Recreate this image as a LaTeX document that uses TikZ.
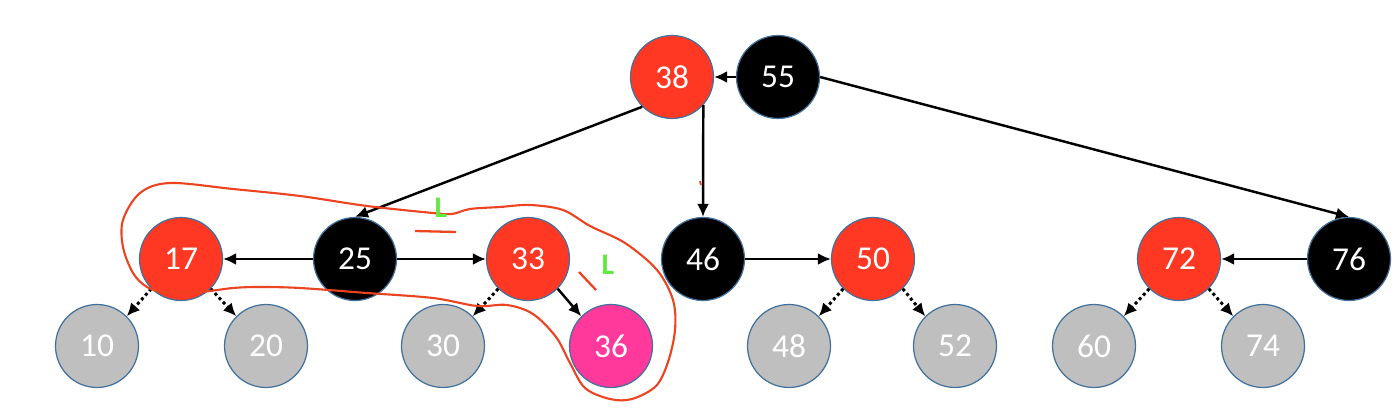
\documentclass[tikz,border=0pt]{standalone}
\usepackage{fontspec}
\setmainfont{Carlito}
\usepackage{xcolor}
\usetikzlibrary{positioning, calc, arrows.meta}

\definecolor{nodered}{HTML}{FF3823}
\definecolor{nodepink}{HTML}{FF389C}
\definecolor{nodegray}{HTML}{BFBFBF}
\definecolor{rim}{HTML}{41719C}
\definecolor{pen}{HTML}{EC4320}
\definecolor{penlime}{HTML}{5EEA3E}

\begin{document}
\begin{tikzpicture}[x=0.02cm,y=-0.02cm,
    key/.style={circle, draw=rim, line width=0.7pt, minimum size=1.66cm, inner sep=0pt,
      text=white, font=\fontsize{19}{21}\selectfont},
    redkey/.style={key, fill=nodered},
    blackkey/.style={key, fill=black},
    leafkey/.style={key, fill=nodegray},
    newkey/.style={key, fill=nodepink},
    link/.style={line width=1.4pt, -{Latex[length=2.6mm, width=2.4mm]}},
    nil/.style={line width=1.7pt, dash pattern=on 1.7pt off 1.7pt, -{Latex[length=2.6mm, width=2.4mm]}},
    rotnote/.style={text=penlime, font=\bfseries\fontsize{17}{17}\selectfont}]
      \useasboundingbox (0,0) rectangle (1398,408);
      % top row
      \node[redkey] (n38) at (672,77) {38};
      \node[blackkey] (n55) at (778,77) {55};
      % middle row
      \node[redkey] (n17) at (181,259) {17};
      \node[blackkey] (n25) at (355,259) {25};
      \node[redkey] (n33) at (528,259) {33};
      \node[blackkey] (n46) at (703,259) {46};
      \node[redkey] (n50) at (873,259) {50};
      \node[redkey] (n72) at (1179,259) {72};
      \node[blackkey] (n76) at (1349,259) {76};
      % leaves
      \node[leafkey] (n10) at (97,346) {10};
      \node[leafkey] (n20) at (266,346) {20};
      \node[leafkey] (n30) at (443,346) {30};
      \node[newkey] (n36) at (611,346) {36};
      \node[leafkey] (n48) at (789,346) {48};
      \node[leafkey] (n52) at (955,346) {52};
      \node[leafkey] (n60) at (1094,346) {60};
      \node[leafkey] (n74) at (1263,346) {74};

      \draw[link] (n55.west) -- (n38.east);
      \draw[link] (n38.225) -- (n25.north);
      \draw[link] (n38.-42) -- (n46.north);
      \draw[link] (n55.east) -- (n76.north);
      \draw[link] (n25.west) -- (n17.east);
      \draw[link] (n25.east) -- (n33.west);
      \draw[link] (n46.east) -- (n50.west);
      \draw[link] (n76.west) -- (n72.east);
      \draw[link] (n33.-45) -- (n36.135);
      \draw[nil] (n17.-135) -- (n10.45);
      \draw[nil] (n17.-45) -- (n20.135);
      \draw[nil] (n33.-135) -- (n30.45);
      \draw[nil] (n50.-135) -- (n48.45);
      \draw[nil] (n50.-45) -- (n52.135);
      \draw[nil] (n72.-135) -- (n60.45);
      \draw[nil] (n72.-45) -- (n74.135);

      % hand-drawn notes
      \draw[pen, line width=1.2pt] plot[smooth cycle, tension=0.55] coordinates {
        (170,183) (233,189) (300,196) (367,206) (433,213) (452,214) (470,209)
        (500,207) (530,205) (563,210) (590,226) (625,243) (657,270) (673,300)
        (675,330) (668,362) (656,386) (632,399) (610,399) (585,388) (570,363)
        (556,337) (533,314) (507,305) (477,306) (433,298) (367,293) (300,288)
        (260,287) (233,288) (200,292) (165,292) (147,287) (133,273) (123,247)
        (123,220) (140,193)};
      \draw[pen, line width=1.3pt] (415,231) -- (456,232);
      \draw[pen, line width=1.3pt] (579,272) -- (596,290);
      \draw[pen, line width=1pt] (700,181) -- (701,185);
      \node[rotnote] (l1) at (441,208) {L};
      \node[rotnote] (l2) at (608,265) {L};
    \end{tikzpicture}
\end{document}
